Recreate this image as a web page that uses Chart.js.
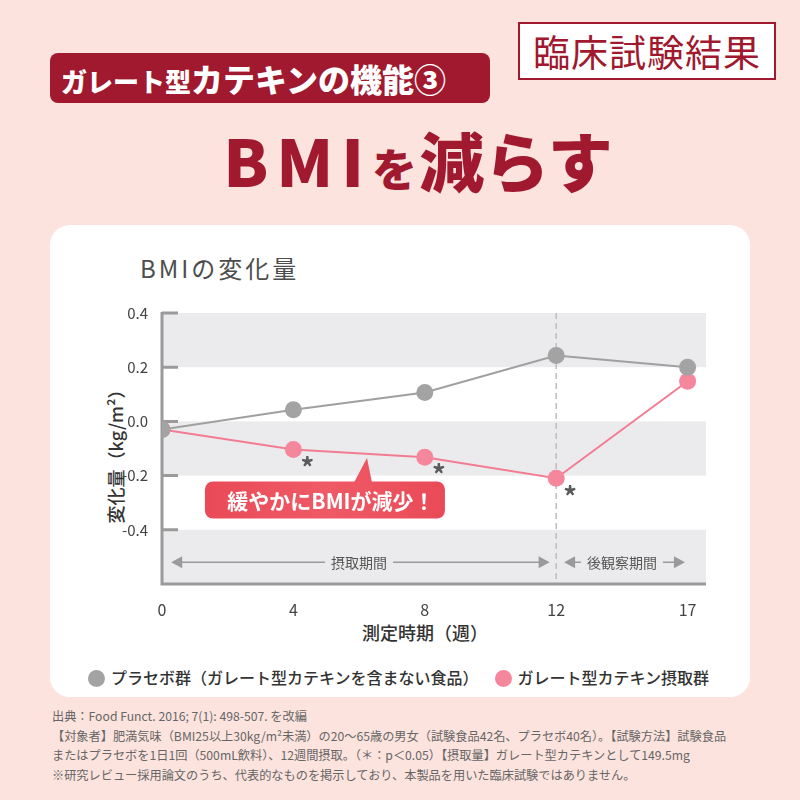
<!DOCTYPE html>
<html lang="ja">
<head>
<meta charset="utf-8">
<script src="https://cdn.jsdelivr.net/npm/chart.js@4.4.1/dist/chart.umd.min.js"></script>
<style>
  body { margin: 0; width: 800px; height: 800px; background: #fce3de; font-family: "Noto Sans CJK JP", "Noto Sans", sans-serif; position: relative; overflow: hidden; }
  .abs { position: absolute; white-space: nowrap; }
  #card { left: 50px; top: 225px; width: 700px; height: 472px; background: #fff; border-radius: 20px; }
  #badge { left: 50px; top: 53px; width: 440px; height: 50px; background: #a0192f; border-radius: 8px; color: #fff; font-weight: 900; line-height: 50px; }
  #badge .s { font-size: 26px; margin-left: 11px; }
  #badge .l { font-size: 32px; }
  #box { left: 518px; top: 22px; width: 254px; height: 54px; border: 2px solid #a0192f; background: #fff; color: #a0192f; font-size: 37px; line-height: 54px; text-align: center; letter-spacing: 1px; }
  #title { left: 18px; width: 800px; top: 114px; text-align: center; color: #a0192f; font-weight: 900; font-size: 65px; line-height: 90px; }
  #title .b { letter-spacing: 8px; }
  #title .o { font-size: 45px; margin-right: 2px; }
  #ctitle { left: 140px; top: 250px; font-size: 24px; color: #4d4d4d; letter-spacing: 3px; line-height: 36px; }
  #ytitle { left: 115px; top: 452px; transform: translate(-50%, -50%) rotate(-90deg); font-size: 18px; font-weight: 500; color: #333; }
  #xtitle { left: 425px; top: 632px; transform: translate(-50%, -50%); font-size: 18px; font-weight: 500; color: #333; }
  #legend { left: 88px; top: 665px; font-size: 16px; font-weight: 500; color: #333; line-height: 24px; }
  .dot { display: inline-block; width: 17px; height: 17px; border-radius: 50%; vertical-align: -3px; margin-right: 6px; }
  #notes { left: 52px; top: 707px; font-size: 12.2px; color: #666; line-height: 19.5px; }
  canvas { position: absolute; left: 0; top: 0; }
</style>
</head>
<body>
<div id="card" class="abs"></div>
<div id="badge" class="abs"><span class="s">ガレート型</span><span class="l">カテキンの機能③</span></div>
<div id="box" class="abs">臨床試験結果</div>
<div id="title" class="abs"><span class="b">BMI</span><span class="o">を</span>減らす</div>
<div id="ctitle" class="abs">BMIの変化量</div>
<div id="ytitle" class="abs">変化量（kg/m²）</div>
<div id="xtitle" class="abs">測定時期（週）</div>
<div id="legend" class="abs"><span class="dot" style="background:#a3a3a3"></span>プラセボ群（ガレート型カテキンを含まない食品）<span class="dot" style="background:#f4879c;margin-left:16px"></span>ガレート型カテキン摂取群</div>
<div id="notes" class="abs">出典：Food Funct. 2016; 7(1): 498-507. を改編<br>【対象者】肥満気味（BMI25以上30kg/m²未満）の20〜65歳の男女（試験食品42名、プラセボ40名）。【試験方法】試験食品<br>またはプラセボを1日1回（500mL飲料）、12週間摂取。（＊：p＜0.05）【摂取量】ガレート型カテキンとして149.5mg<br>※研究レビュー採用論文のうち、代表的なものを掲示しており、本製品を用いた臨床試験ではありません。</div>
<canvas id="myChart" width="800" height="800"></canvas>
<script>
//Data
const weeks = ["0", "4", "8", "12", "17"];
const placebo = [-0.03, 0.043, 0.107, 0.243, 0.2];
const catechin = [-0.03, -0.104, -0.132, -0.21, 0.148];
const yTicks = [-0.4, -0.2, 0, 0.2, 0.4];
const significant = [false, true, true, true, false];

const GRAY = "#a3a3a3";
const PINK = "#f4879c";
const FONT = '"Noto Sans CJK JP", "Noto Sans", sans-serif';

const toXY = (arr) => arr.map((v, i) => ({ x: i, y: v }));

//Background bands, axis, dashed line, period arrows
const decorPlugin = {
  id: "decor",
  beforeDatasetsDraw(chart) {
    const { ctx, chartArea: a, scales } = chart;
    const xs = scales.x, ys = scales.y;
    ctx.save();
    // bands
    const edges = [0.4, 0.2, 0, -0.2, -0.4, -0.6];
    for (let i = 0; i < edges.length - 1; i++) {
      if (i % 2 === 0) {
        const y1 = ys.getPixelForValue(edges[i]);
        const y2 = ys.getPixelForValue(edges[i + 1]);
        ctx.fillStyle = "#ebebed";
        ctx.fillRect(a.left, y1, a.right - a.left, y2 - y1);
      }
    }
    // dashed line at week 12
    const x12 = xs.getPixelForValue(3);
    ctx.strokeStyle = "#bdbdbd";
    ctx.lineWidth = 1.5;
    ctx.setLineDash([6, 4]);
    ctx.beginPath();
    ctx.moveTo(x12, a.top);
    ctx.lineTo(x12, a.bottom);
    ctx.stroke();
    ctx.setLineDash([]);

    // period arrows
    const ay = ys.getPixelForValue(-0.52);
    ctx.font = "14px " + FONT;
    ctx.textAlign = "center";
    ctx.textBaseline = "middle";
    const arrow = (from, to, label, mid) => {
      const x1 = xs.getPixelForValue(from), x2 = xs.getPixelForValue(to);
      const xm = xs.getPixelForValue(mid);
      const w = ctx.measureText(label).width / 2 + 6;
      ctx.strokeStyle = "#9a9a9a";
      ctx.fillStyle = "#9a9a9a";
      ctx.lineWidth = 1.5;
      ctx.beginPath();
      ctx.moveTo(x1 + 4, ay); ctx.lineTo(xm - w, ay);
      ctx.moveTo(xm + w, ay); ctx.lineTo(x2 - 4, ay);
      ctx.stroke();
      ctx.beginPath();
      ctx.moveTo(x1, ay); ctx.lineTo(x1 + 11, ay - 6); ctx.lineTo(x1 + 11, ay + 6); ctx.closePath();
      ctx.moveTo(x2, ay); ctx.lineTo(x2 - 11, ay - 6); ctx.lineTo(x2 - 11, ay + 6); ctx.closePath();
      ctx.fill();
      ctx.fillStyle = "#555";
      ctx.fillText(label, xm, ay);
    };
    arrow(0.07, 2.95, "摂取期間", 1.5);
    arrow(3.06, 3.98, "後観察期間", 3.5);

    // axis lines and inner ticks
    ctx.strokeStyle = "#9a9a9a";
    ctx.lineWidth = 3;
    ctx.beginPath();
    ctx.moveTo(a.left, a.top - 1);
    ctx.lineTo(a.left, a.bottom);
    ctx.lineTo(a.right, a.bottom);
    yTicks.forEach((t) => {
      const y = ys.getPixelForValue(t);
      ctx.moveTo(a.left, y);
      ctx.lineTo(a.left + 16, y);
    });
    ctx.stroke();
    ctx.restore();
  },
  afterDatasetsDraw(chart) {
    const { ctx, scales } = chart;
    const xs = scales.x, ys = scales.y;
    ctx.save();
    // asterisks
    ctx.fillStyle = "#5a5a5a";
    ctx.font = "bold 27px " + FONT;
    ctx.textAlign = "center";
    ctx.textBaseline = "middle";
    catechin.forEach((v, i) => {
      if (significant[i]) {
        ctx.fillText("*", xs.getPixelForValue(i) + 14, ys.getPixelForValue(v) + 18);
      }
    });
    // callout
    const cx = xs.getPixelForValue(1.24);
    const cy = ys.getPixelForValue(-0.29);
    const w = 240, h = 37, r = 8;
    const left = cx - w / 2, top = cy - h / 2;
    const grad = ctx.createLinearGradient(left, 0, left + w, 0);
    grad.addColorStop(0, "#ea4a57");
    grad.addColorStop(0.5, "#ee5a66");
    grad.addColorStop(1, "#ea4a57");
    ctx.fillStyle = grad;
    ctx.beginPath();
    ctx.roundRect(left, top, w, h, r);
    ctx.fill();
    const tipX = xs.getPixelForValue(1.56);
    ctx.beginPath();
    ctx.moveTo(tipX - 13, top + 1);
    ctx.lineTo(tipX, ys.getPixelForValue(-0.135));
    ctx.lineTo(tipX + 5, top + 1);
    ctx.closePath();
    ctx.fill();
    ctx.fillStyle = "#fff";
    ctx.font = "bold 21px " + FONT;
    ctx.fillText("緩やかにBMIが減少！", cx + 6, cy + 1);
    ctx.restore();
  },
};

const config = {
  type: "line",
  data: {
    datasets: [
      {
        label: "プラセボ群",
        data: toXY(placebo),
        borderColor: "#a0a0a0",
        backgroundColor: GRAY,
        pointBackgroundColor: GRAY,
        pointBorderWidth: 0,
        pointRadius: 8.5,
        borderWidth: 2,
        tension: 0,
      },
      {
        label: "ガレート型カテキン摂取群",
        data: toXY(catechin),
        borderColor: "#f27c93",
        backgroundColor: PINK,
        pointBackgroundColor: PINK,
        pointBorderWidth: 0,
        pointRadius: 8.5,
        borderWidth: 2,
        tension: 0,
      },
    ],
  },
  options: {
    responsive: false,
    animation: false,
    layout: {
      padding: { left: 112, right: 94, top: 313, bottom: 176 },
    },
    scales: {
      x: {
        type: "linear",
        min: 0,
        max: 4.14,
        afterBuildTicks: (scale) => {
          scale.ticks = weeks.map((w, i) => ({ value: i }));
        },
        afterFit: (scale) => {
          scale.height = 40;
        },
        grid: { display: false },
        border: { display: false },
        ticks: {
          padding: 8,
          color: "#444",
          font: { size: 16, family: FONT },
          callback: (v) => weeks[v],
          maxRotation: 0,
        },
      },
      y: {
        min: -0.6,
        max: 0.4,
        afterBuildTicks: (scale) => {
          scale.ticks = yTicks.map((t) => ({ value: t }));
        },
        afterFit: (scale) => {
          scale.width = 50;
        },
        grid: { display: false },
        border: { display: false },
        ticks: {
          padding: 6,
          color: "#444",
          font: { size: 15, family: FONT },
          callback: (v) => v.toFixed(1),
        },
      },
    },
    plugins: {
      legend: { display: false },
      tooltip: { enabled: false },
    },
  },
  plugins: [decorPlugin],
};

var myChart = new Chart(document.getElementById("myChart"), config);
</script>
</body>
</html>
